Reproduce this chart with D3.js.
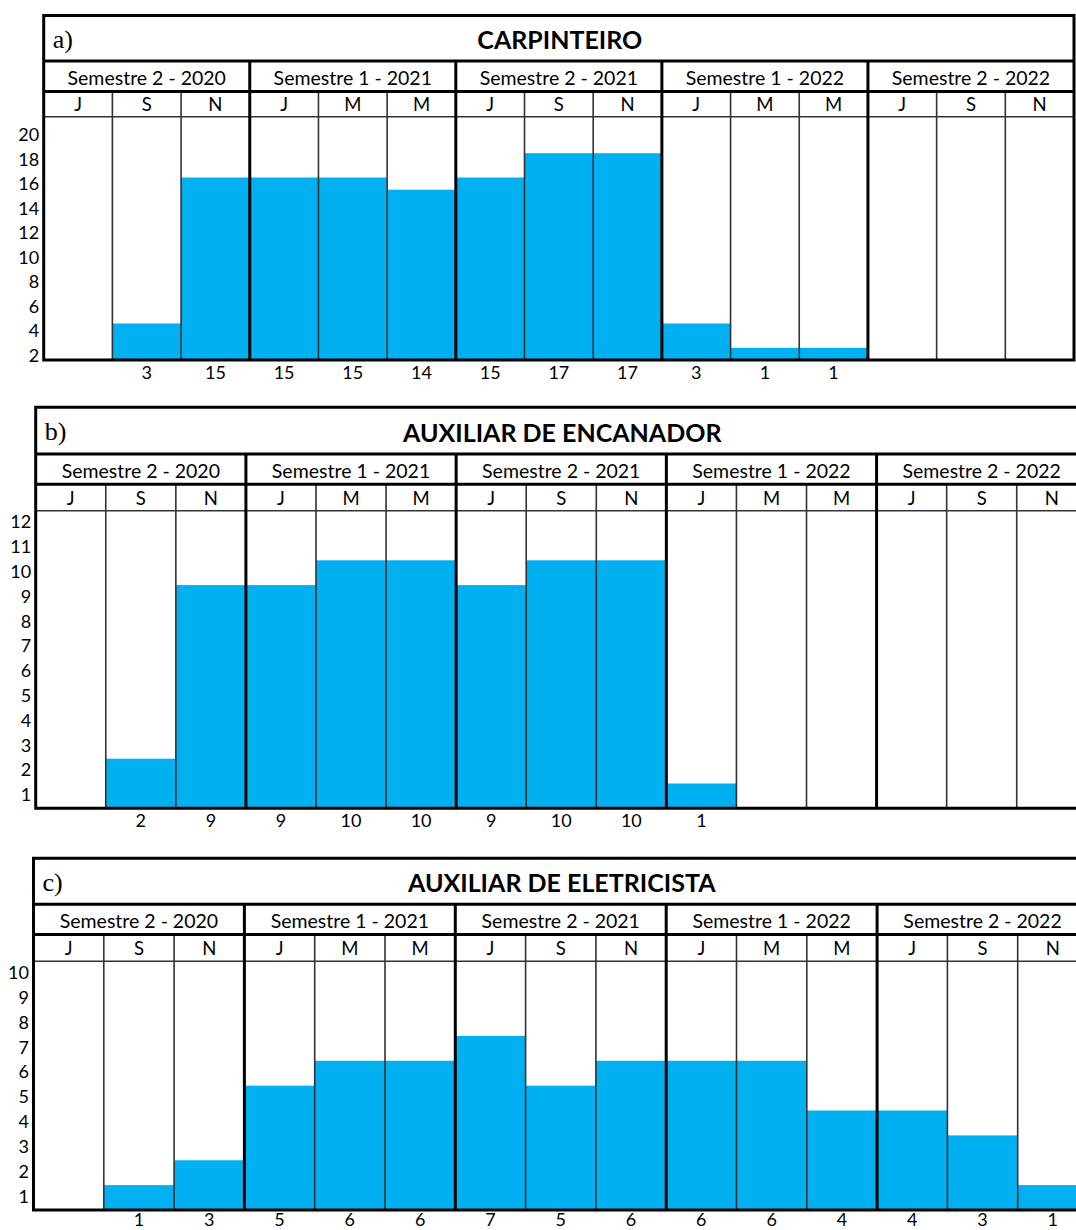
<!DOCTYPE html>
<html><head><meta charset="utf-8">
<script src="https://cdn.jsdelivr.net/npm/d3@7"></script>
<style>html,body{margin:0;padding:0;background:#fff;} svg{display:block;}</style>
</head><body>
<svg id="chart" width="1076" height="1230"></svg>
<script>
// ---------- data ----------
const semesters = ["Semestre 2 - 2020", "Semestre 1 - 2021", "Semestre 2 - 2021", "Semestre 1 - 2022", "Semestre 2 - 2022"];
const months = ["J", "S", "N", "J", "M", "M", "J", "S", "N", "J", "M", "M", "J", "S", "N"];

const carpinteiroValues = [null, 3, 15, 15, 15, 14, 15, 17, 17, 3, 1, 1, null, null, null];
const carpinteiroLabels = [null, 3, 15, 15, 15, 14, 15, 17, 17, 3, 1, 1, null, null, null];
const carpinteiroTicks = [2, 4, 6, 8, 10, 12, 14, 16, 18, 20];

const encanadorValues = [null, 2, 9, 9, 10, 10, 9, 10, 10, 1, null, null, null, null, null];
const encanadorLabels = [null, 2, 9, 9, 10, 10, 9, 10, 10, 1, null, null, null, null, null];
const encanadorTicks = [1, 2, 3, 4, 5, 6, 7, 8, 9, 10, 11, 12];

const eletricistaValues = [null, 1, 2, 5, 6, 6, 7, 5, 6, 6, 6, 4, 4, 3, 1];
const eletricistaLabels = [null, 1, 3, 5, 6, 6, 7, 5, 6, 6, 6, 4, 4, 3, 1];
const eletricistaTicks = [1, 2, 3, 4, 5, 6, 7, 8, 9, 10];

// ---------- panels ----------
const panels = [
  { tag: "a)", title: "CARPINTEIRO", bars: carpinteiroValues, labels: carpinteiroLabels, ticks: carpinteiroTicks,
    barDomain: [0, 20], axisDomain: [1.63, 21.5],
    left: 43.7, right: 1074, top: 15.5, titleBottom: 61, semBottom: 91.5, monthBottom: 116.7, bottom: 360, labelBase: 379.3, rightBorder: true },
  { tag: "b)", title: "AUXILIAR DE ENCANADOR", bars: encanadorValues, labels: encanadorLabels, ticks: encanadorTicks,
    barDomain: [0, 12], axisDomain: [0.46, 12.46],
    left: 35.7, right: 1086.8, top: 407.3, titleBottom: 454, semBottom: 484.3, monthBottom: 510.7, bottom: 808.3, labelBase: 827, rightBorder: false },
  { tag: "c)", title: "AUXILIAR DE ELETRICISTA", bars: eletricistaValues, labels: eletricistaLabels, ticks: eletricistaTicks,
    barDomain: [0, 10], axisDomain: [0.47, 10.45],
    left: 33.5, right: 1088, top: 858.3, titleBottom: 904.3, semBottom: 934.5, monthBottom: 961.3, bottom: 1210, labelBase: 1226, rightBorder: false }
];

const svg = d3.select("#chart");
svg.append("rect").attr("width", 1076).attr("height", 1230).attr("fill", "#fff");

const FONT = "Lato, 'Open Sans', sans-serif";
const TXT = "#000";
const THICK = 3, THIN = 1.6;

function drawPanel(p) {
  const g = svg.append("g");
  const x = d3.scaleBand().domain(d3.range(months.length)).range([p.left, p.right]).padding(0);
  const bw = x.bandwidth();
  const y = d3.scaleLinear().domain(p.barDomain).range([p.bottom, p.monthBottom]);
  const yAx = d3.scaleLinear().domain(p.axisDomain).range([p.bottom, p.monthBottom]);

  // bars
  const barData = p.bars.map((v, i) => ({ v, i })).filter(d => d.v != null);
  g.selectAll("rect.bar").data(barData).join("rect").attr("class", "bar")
    .attr("x", d => x(d.i)).attr("width", bw)
    .attr("y", d => y(d.v)).attr("height", d => y(0) - y(d.v))
    .attr("fill", "#00B0F0");

  // thin column lines (month row + plot)
  const thinIdx = d3.range(1, months.length).filter(i => i % 3 !== 0);
  g.selectAll("line.thin").data(thinIdx).join("line").attr("class", "thin")
    .attr("x1", i => x(i)).attr("x2", i => x(i))
    .attr("y1", p.semBottom).attr("y2", p.bottom)
    .attr("stroke", "#333").attr("stroke-width", THIN);

  // month row bottom (thin)
  g.append("line").attr("x1", p.left).attr("x2", p.right).attr("y1", p.monthBottom).attr("y2", p.monthBottom)
    .attr("stroke", "#333").attr("stroke-width", THIN);

  // semester boundaries (thick)
  const semIdx = d3.range(1, semesters.length).map(s => s * 3);
  g.selectAll("line.sem").data(semIdx).join("line").attr("class", "sem")
    .attr("x1", i => x(i)).attr("x2", i => x(i))
    .attr("y1", p.titleBottom).attr("y2", p.bottom)
    .attr("stroke", "#000").attr("stroke-width", THICK);

  // horizontal thick lines
  [p.titleBottom, p.semBottom].forEach(yy => {
    g.append("line").attr("x1", p.left).attr("x2", p.right).attr("y1", yy).attr("y2", yy)
      .attr("stroke", "#000").attr("stroke-width", THICK);
  });

  // outer box
  const box = d3.path();
  box.moveTo(p.left, p.bottom); box.lineTo(p.left, p.top); box.lineTo(p.right, p.top);
  if (p.rightBorder) { box.lineTo(p.right, p.bottom); } else { box.moveTo(p.right, p.bottom); }
  box.lineTo(p.left, p.bottom);
  g.append("path").attr("d", box.toString()).attr("fill", "none").attr("stroke", "#000")
    .attr("stroke-width", THICK).attr("stroke-linejoin", "miter").attr("stroke-linecap", "square");

  // tag and title
  g.append("text").attr("x", p.left + 9).attr("y", (p.top + p.titleBottom) / 2 + 1)
    .attr("dominant-baseline", "central").attr("font-family", "'Liberation Serif', 'DejaVu Serif', serif")
    .attr("font-size", 26).attr("fill", TXT).text(p.tag);
  g.append("text").attr("x", (p.left + p.right) / 2 + 1).attr("y", (p.top + p.titleBottom) / 2 + 1)
    .attr("dominant-baseline", "central").attr("text-anchor", "middle")
    .attr("font-family", FONT).attr("font-weight", 700).attr("font-size", 25).attr("fill", TXT).text(p.title);

  // semester labels
  g.selectAll("text.sem").data(semesters).join("text").attr("class", "sem")
    .attr("x", (d, s) => x(s * 3) + 1.5 * bw).attr("y", (p.titleBottom + p.semBottom) / 2 + 1)
    .attr("dominant-baseline", "central").attr("text-anchor", "middle")
    .attr("font-family", FONT).attr("font-size", 19.5).attr("fill", TXT).text(d => d);

  // month labels
  g.selectAll("text.mon").data(months).join("text").attr("class", "mon")
    .attr("x", (d, i) => x(i) + bw / 2).attr("y", (p.semBottom + p.monthBottom) / 2)
    .attr("dominant-baseline", "central").attr("text-anchor", "middle")
    .attr("font-family", FONT).attr("font-size", 18.5).attr("fill", TXT).text(d => d);

  // value labels under bars
  const labData = p.labels.map((v, i) => ({ v, i })).filter(d => d.v != null);
  g.selectAll("text.val").data(labData).join("text").attr("class", "val")
    .attr("x", d => x(d.i) + bw / 2).attr("y", p.labelBase)
    .attr("text-anchor", "middle")
    .attr("font-family", FONT).attr("font-size", 18).attr("fill", TXT).text(d => d.v);

  // y axis
  const ax = g.append("g").attr("transform", `translate(${p.left - 1.5},0)`)
    .call(d3.axisLeft(yAx).tickValues(p.ticks).tickSize(0).tickPadding(3).tickFormat(d3.format("d")));
  ax.select(".domain").remove();
  ax.selectAll("text").attr("font-family", FONT).attr("font-size", 18).attr("fill", TXT);
}

panels.forEach(drawPanel);
</script>
</body></html>
